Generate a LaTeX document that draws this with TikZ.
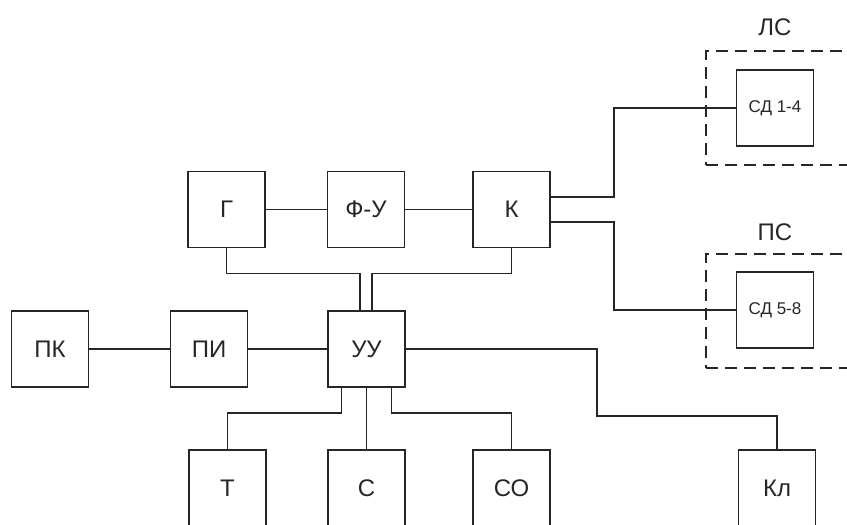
\documentclass[tikz,border=0pt]{standalone}
\usepackage{fontspec}
\setmainfont{Liberation Sans}
\usepackage{tikz}
\usetikzlibrary{positioning}

\begin{document}
\begin{tikzpicture}[x=1pt, y=-1pt, line width=1.6pt, color=black!85,
  block/.style={rectangle, draw, minimum width=77pt, minimum height=76pt, inner sep=0pt,
    font=\fontsize{24}{28}\selectfont},
  sensor/.style={block, font=\fontsize{17}{20}\selectfont},
  group/.style={rectangle, draw, dash pattern=on 12pt off 7pt, minimum width=144pt,
    minimum height=114pt, inner sep=0pt},
  title/.style={font=\fontsize{24}{28}\selectfont}
]
\useasboundingbox (0,0) rectangle (847,525);

% upper row
\node[block] (G) at (226.5,209.5) {Г};
\node[block] (FU) at (366,209.5) {Ф-У};
\node[block] (K) at (511.5,209.5) {К};

% middle row
\node[block] (PK) at (50,349) {ПК};
\node[block] (PI) at (209,349) {ПИ};
\node[block] (UU) at (366.5,349) {УУ};

% lower row
\node[block] (T) at (227.5,488) {Т};
\node[block] (S) at (366.5,488) {С};
\node[block] (SO) at (511.5,488) {СО};
\node[block] (Kl) at (777,488) {Кл};

% sides
\node[group] (LS) at (778,108) {};
\node[group] (PS) at (778,311) {};
\node[title] (LSname) at (775,27) {ЛС};
\node[title] (PSname) at (775,232) {ПС};
\node[sensor] (SD1) at (775,108) {СД 1-4};
\node[sensor] (SD2) at (775,310) {СД 5-8};

\draw (G) -- (FU);
\draw (FU) -- (K);
\draw (G.south) -- ++(0,25) -| ([xshift=-6.5pt]UU.north);
\draw (K.south) -- ++(0,25) -| ([xshift=5.5pt]UU.north);
\draw ([yshift=12.5pt]K.east) -- ++(63,0) |- (SD1.west);
\draw ([yshift=-12.5pt]K.east) -- ++(63,0) |- (SD2.west);

\draw (PK) -- (PI);
\draw (PI) -- (UU);
\draw ([xshift=-25pt]UU.south) -- ++(0,25) -| (T.north);
\draw (UU.south) -- (S.north);
\draw ([xshift=25pt]UU.south) -- ++(0,25) -| (SO.north);
\draw (UU.east) -- ++(191,0) -- ++(0,67) -| (Kl.north);
\end{tikzpicture}
\end{document}
